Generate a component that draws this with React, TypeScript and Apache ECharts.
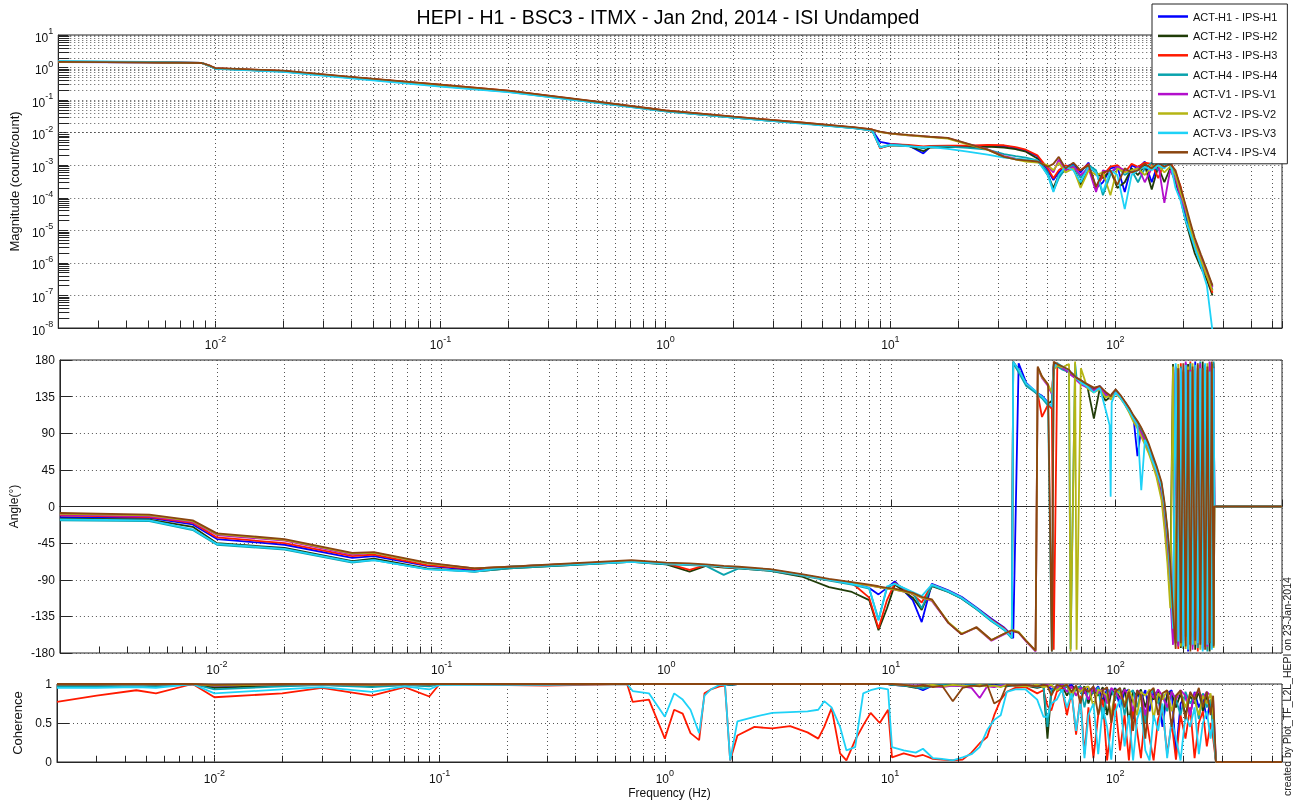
import React, { useEffect, useRef } from 'react';
import * as echarts from 'echarts';

const TITLE = 'HEPI - H1 - BSC3 - ITMX - Jan 2nd, 2014 - ISI Undamped';
const CREDIT = 'created by Plot_TF_L2L_HEPI on 23-Jan-2014';
const NAMES = ['ACT-H1 - IPS-H1', 'ACT-H2 - IPS-H2', 'ACT-H3 - IPS-H3', 'ACT-H4 - IPS-H4', 'ACT-V1 - IPS-V1', 'ACT-V2 - IPS-V2', 'ACT-V3 - IPS-V3', 'ACT-V4 - IPS-V4'];
const COLORS = ['#0000ff', '#203c08', '#ff1a00', '#0aa3ad', '#b30fcc', '#b5b514', '#1ed2f7', '#8a4510'];

// ---------- Magnitude ----------
const MAG_F = [0.002, 0.005, 0.0087, 0.0095, 0.01, 0.02, 0.04, 0.1, 0.2, 0.5, 1, 2, 4, 7, 8.3,
  9, 10, 12, 14, 15, 18, 22, 27, 32, 36, 40, 45, 50, 53, 56, 60, 65, 70, 76, 82, 88, 95, 102, 110, 118, 126, 135, 145, 155, 165, 175, 185, 195, 205, 215, 225, 240, 255, 270];
const MAG_H1 = [1.48, 1.44, 1.37, 1.1, 0.94, 0.77, 0.5, 0.29, 0.19, 0.086, 0.047, 0.030, 0.020, 0.014, 0.012,
  0.0052, 0.0045, 0.0041, 0.0023, 0.0036, 0.0038, 0.0037, 0.0038, 0.0039, 0.0034, 0.0028, 0.0019, 0.0007, 0.00035, 0.0006, 0.0009, 0.0011, 0.0006, 0.0012, 0.0002, 0.0003, 0.0008, 0.0009, 0.00015, 0.0010, 0.0008, 0.0013, 0.0003, 0.0012, 0.0009, 0.0011, 0.0004, 0.00012, 0.00003, 0.000008, 0.000003, 0.0000009, 0.0000004, 0.00000015];
const MAG_H2 = [1.5, 1.45, 1.38, 1.08, 0.93, 0.76, 0.49, 0.28, 0.185, 0.085, 0.046, 0.029, 0.0195, 0.0135, 0.0115,
  0.0034, 0.0041, 0.0039, 0.0027, 0.0035, 0.0036, 0.0036, 0.0037, 0.0035, 0.0031, 0.0026, 0.0016, 0.0005, 0.0002, 0.0005, 0.0007, 0.0009, 0.00025, 0.0009, 0.0006, 0.0004, 0.0007, 0.0002, 0.0003, 0.0008, 0.0005, 0.0010, 0.00018, 0.0009, 0.0003, 0.0008, 0.0003, 0.00009, 0.00002, 0.000006, 0.000002, 0.0000007, 0.0000003, 0.0000001];
const MAG_H3 = [1.52, 1.46, 1.39, 1.12, 0.96, 0.79, 0.51, 0.3, 0.195, 0.088, 0.048, 0.031, 0.0205, 0.0142, 0.0125,
  0.0033, 0.0044, 0.0042, 0.0038, 0.0039, 0.0040, 0.0040, 0.0042, 0.0041, 0.0036, 0.0030, 0.0020, 0.0008, 0.0004, 0.0007, 0.0010, 0.0008, 0.0007, 0.0011, 0.00018, 0.0005, 0.0009, 0.0010, 0.0006, 0.0011, 0.0009, 0.0012, 0.0011, 0.0004, 0.0012, 0.0013, 0.0006, 0.00022, 0.00005, 0.000012, 0.000004, 0.0000012, 0.0000004, 0.00000012];
const MAG_H4 = [1.55, 1.47, 1.38, 1.09, 0.93, 0.75, 0.48, 0.27, 0.18, 0.083, 0.045, 0.029, 0.0195, 0.0138, 0.0118,
  0.0036, 0.0043, 0.0040, 0.0033, 0.0037, 0.0037, 0.0034, 0.0030, 0.0022, 0.0019, 0.0017, 0.0014, 0.0006, 0.00016, 0.0004, 0.0008, 0.0010, 0.0004, 0.0010, 0.0007, 0.00012, 0.0005, 0.0009, 0.0005, 0.0007, 0.0003, 0.0008, 0.0012, 0.0007, 0.0011, 0.0010, 0.0005, 0.00015, 0.00004, 0.00001, 0.0000035, 0.000001, 0.0000005, 0.0000002];
const MAG_V1 = [1.5, 1.45, 1.38, 1.1, 0.95, 0.78, 0.5, 0.29, 0.19, 0.087, 0.047, 0.030, 0.020, 0.014, 0.0121,
  0.0105, 0.0094, 0.0083, 0.0077, 0.0074, 0.0068, 0.0045, 0.0031, 0.0019, 0.0016, 0.0014, 0.0013, 0.0009, 0.0006, 0.0015, 0.0007, 0.0009, 0.0005, 0.0008, 0.00015, 0.0007, 0.0006, 0.0009, 0.0007, 0.0006, 0.0009, 0.0003, 0.0008, 0.0011, 0.00007, 0.0007, 0.0004, 0.00010, 0.00004, 0.000015, 0.000005, 0.0000015, 0.0000005, 0.00000018];
const MAG_V2 = [1.5, 1.45, 1.37, 1.1, 0.95, 0.78, 0.5, 0.29, 0.19, 0.087, 0.047, 0.030, 0.020, 0.014, 0.0121,
  0.0104, 0.0093, 0.0082, 0.0076, 0.0073, 0.0066, 0.0044, 0.0030, 0.0018, 0.0015, 0.0013, 0.0012, 0.0010, 0.0007, 0.0012, 0.0006, 0.0008, 0.0002, 0.0007, 0.0005, 0.0006, 0.00012, 0.0008, 0.0006, 0.0007, 0.0008, 0.0005, 0.0009, 0.0010, 0.0006, 0.0009, 0.0005, 0.00014, 0.00005, 0.000012, 0.000004, 0.0000012, 0.0000004, 0.00000014];
const MAG_V3 = [1.58, 1.5, 1.4, 1.08, 0.92, 0.74, 0.47, 0.26, 0.175, 0.082, 0.045, 0.029, 0.019, 0.0135, 0.0116,
  0.0035, 0.0042, 0.0038, 0.0036, 0.0036, 0.0032, 0.0026, 0.0021, 0.0017, 0.0016, 0.0015, 0.0014, 0.0005, 0.00015, 0.0005, 0.0009, 0.0007, 0.0003, 0.0009, 0.0006, 0.00015, 0.0007, 0.0005, 0.000045, 0.0005, 0.0007, 0.0009, 0.0007, 0.0010, 0.0008, 0.0013, 0.0002, 0.00008, 0.00002, 0.000008, 0.000003, 0.0000008, 0.0000002, 0.000000008];
const MAG_V4 = [1.5, 1.45, 1.38, 1.12, 0.96, 0.8, 0.52, 0.3, 0.195, 0.089, 0.048, 0.031, 0.0205, 0.0145, 0.0125,
  0.0107, 0.0095, 0.0085, 0.0078, 0.0075, 0.0069, 0.0046, 0.0030, 0.0018, 0.0015, 0.0014, 0.0013, 0.0009, 0.0011, 0.0018, 0.0008, 0.0012, 0.0007, 0.0010, 0.00022, 0.0006, 0.0007, 0.00025, 0.0008, 0.0006, 0.0007, 0.0011, 0.0008, 0.0012, 0.0009, 0.0011, 0.0007, 0.0002, 0.00006, 0.000018, 0.000006, 0.0000018, 0.0000006, 0.0000002];

// ---------- Phase ----------
const PH_F = [0.002, 0.005, 0.0078, 0.01, 0.02, 0.04, 0.05, 0.086, 0.14, 0.2,
  0.7, 1, 1.27, 1.5, 1.8, 2.1, 2.9, 4, 5.3, 6.7,
  8, 8.8, 9.6, 10.4, 12.5, 13.7, 15.2, 18, 20.6, 24,
  28, 32, 34.5, 35, 37, 40, 44, 45, 47, 50,
  52, 53, 55, 58, 62, 63, 66, 67, 70, 75,
  80, 85, 90, 94, 95, 96, 100, 105, 110, 115,
  120, 125, 130, 135, 140, 145, 152, 160, 165, 170,
  175, 180, 185, 190, 195, 200, 205, 210, 215, 220,
  226, 232, 238, 244, 250, 256, 262, 268, 273, 275, 550];
const PH_H1 = [-13, -14, -22, -40, -47, -63, -61, -73, -78, -75,
  -67, -70, -71, -72, -74, -75, -78, -84, -90, -94,
  -100, -108, -100, -92, -115, -142, -95, -103, -111, -124,
  -138, -149, -158, -162, 176, 152, 141, 139, 136, 128,
  122, 172, 174, 171, 167, 165, 160, 158, 155, 150,
  144, 148, 139, 136, 134, 137, 143, 136, 128, 120,
  110, 62, 96, 84, 74, 60, 46, 20, -5, -40,
  -85, -160, 172, -170, 165, -165, 176, -178, 168, -160,
  178, -172, 170, -176, 174, -168, 177, -174, 172, 0, 0];
const PH_H2 = [-15, -16, -25, -45, -51, -67, -64, -76, -80, -76,
  -68, -71, -80, -73, -75, -76, -79, -86, -99, -105,
  -115, -152, -125, -96, -112, -127, -98, -105, -113, -126,
  -140, -151, -161, 178, 168, 150, 140, 138, 134, 126,
  130, 175, 176, 170, 166, 163, 158, 156, 152, 146,
  108, 145, 130, 134, 133, 135, 141, 134, 126, 117,
  108, 100, 92, 80, 72, 58, 42, 18, -8, -45,
  -95, 175, -168, 170, -174, 166, -160, 175, -170, 168,
  -176, 170, -165, 178, -172, 168, -178, 175, -170, 0, 0];
const PH_H3 = [-11, -13, -20, -38, -45, -61, -59, -72, -77, -74,
  -67, -70, -78, -72, -74, -75, -78, -84, -90, -94,
  -112, -150, -115, -94, -108, -118, -96, -104, -112, -125,
  -139, -150, -160, 177, 166, 150, 141, 138, 110, 125,
  120, -176, 174, 171, 166, 164, 159, 157, 154, 148,
  143, 147, 138, 135, 133, 136, 142, 135, 127, 119,
  110, 103, 94, 83, 72, 60, 45, 22, -2, -35,
  -80, -155, 170, -175, 176, -168, 165, -172, 178, -165,
  170, -178, 174, -170, 168, -176, 172, -168, 176, 0, 0];
const PH_H4 = [-17, -18, -29, -47, -53, -69, -66, -77, -80, -76,
  -68, -71, -72, -73, -84, -76, -79, -85, -91, -96,
  -101, -139, -100, -95, -106, -125, -97, -105, -113, -126,
  -141, -152, -162, 176, 165, 148, 140, 137, 133, 124,
  -178, 174, 172, 168, 165, -175, 176, 158, 154, 148,
  142, 146, 137, 134, 132, 135, 141, 135, 128, 120,
  111, 104, 95, 86, 76, 63, 48, 28, 2, -30,
  -75, -150, 168, -170, 172, -175, 170, -166, 176, -172,
  166, -174, 178, -168, 170, -178, 168, -172, 178, 0, 0];
const PH_V1 = [-10, -12, -19, -35, -42, -59, -57, -70, -76, -74,
  -67, -70, -71, -72, -74, -75, -78, -84, -90, -94,
  -97, -99, -101, -102, -107, -112, -116, -143, -157, -149,
  -165, -157, -153, -153, -155, -166, -178, 170, 158, 148,
  138, 172, 175, 170, 165, 162, 158, 155, 150, 146,
  142, 146, 138, 135, 132, 134, 140, 134, 126, 116,
  107, 98, 90, 80, 70, 58, 40, 12, -20, -60,
  -110, -170, 165, -172, 170, -165, 178, -170, 168, -176,
  172, -168, 176, -174, 166, -172, 178, -166, 170, 0, 0];
const PH_V2 = [-9, -11, -18, -34, -41, -58, -57, -70, -76, -74,
  -67, -70, -71, -72, -74, -75, -78, -84, -90, -94,
  -97, -99, -101, -102, -107, -112, -115, -142, -156, -149,
  -164, -156, -152, -152, -154, -165, -177, 171, 159, 150,
  140, 168, 173, 171, 175, -178, 178, -176, 170, 145,
  140, 144, 134, 136, 131, 134, 139, 133, 125, 115,
  104, 96, 86, 76, 66, 54, 36, 8, -28, -70,
  -125, 172, -168, 175, -172, 168, -175, 172, -168, 176,
  -170, 174, -176, 168, -172, 176, -166, 172, -174, 0, 0];
const PH_V3 = [-16, -17, -28, -46, -52, -68, -66, -77, -80, -74,
  -68, -70, -71, -72, -74, -75, -78, -84, -90, -95,
  -100, -140, -98, -95, -105, -110, -96, -104, -112, -125,
  -140, -151, -161, 178, 168, 151, 142, 139, 135, 127,
  123, 170, 176, 172, 167, 165, 160, 157, 152, 147,
  140, 146, 120, 100, 12, 128, 140, 134, 125, 117,
  108, 100, 20, 82, 72, 58, 44, 24, 0, -35,
  -82, -150, 176, -166, 170, -172, 174, -176, 166, -170,
  174, -168, 170, -178, 176, -170, 166, -176, 170, 0, 0];
const PH_V4 = [-8, -10, -17, -33, -40, -57, -56, -69, -76, -74,
  -66, -69, -70, -71, -73, -74, -77, -83, -89, -93,
  -96, -98, -100, -101, -106, -111, -114, -143, -157, -148,
  -164, -156, -152, -153, -155, -165, -177, 172, 160, 150,
  -178, 178, 175, 172, 168, 165, 160, 158, 155, 150,
  146, 148, 141, 137, 135, 138, 144, 137, 129, 121,
  112, 105, 97, 88, 78, 66, 50, 30, 5, -28,
  -70, -130, -175, 170, -168, 176, -172, 168, -178, 172,
  -165, 176, -170, 170, -176, 172, -168, 178, -172, 0, 0];

// ---------- Coherence ----------
const COH_F = [0.002, 0.003, 0.0045, 0.0055, 0.008, 0.01, 0.02, 0.03, 0.05, 0.07,
  0.09, 0.1, 0.3, 0.68, 0.72, 0.85, 1.0, 1.1, 1.2, 1.3,
  1.42, 1.5, 1.6, 1.75, 1.85, 1.95, 2.1, 2.5, 3, 3.6,
  4.3, 4.8, 5.1, 5.5, 6, 6.4, 7, 7.6, 8.2, 9,
  9.8, 10.2, 11.5, 13, 14, 15.5, 17, 19, 21, 23,
  25, 27, 29, 31, 33, 36, 40, 45, 48,
  50, 52, 55, 58, 61, 64, 67, 70, 73, 76,
  80, 84, 88, 92, 96, 100, 105, 110, 115, 120,
  125, 130, 136, 142, 148, 155, 162, 170, 178, 186,
  195, 205, 215, 225, 235, 245, 255, 265, 272, 280, 550];
const COH_H1 = [0.99, 0.99, 0.995, 0.99, 1, 0.97, 0.99, 0.995, 0.98, 0.995,
  0.99, 1, 1, 1, 1, 1, 1, 1, 1, 1,
  1, 1, 1, 1, 1, 0.99, 1, 1, 1, 1,
  1, 1, 1, 1, 1, 1, 1, 1, 1, 1,
  1, 0.99, 0.98, 0.96, 0.92, 0.98, 0.99, 0.99, 0.98, 0.99,
  0.99, 0.98, 0.99, 0.99, 0.98, 0.99, 0.98, 0.97, 0.99,
  0.98, 0.93, 0.97, 0.99, 0.96, 0.99, 0.92, 0.97, 0.88, 0.95,
  0.9, 0.97, 0.78, 0.94, 0.86, 0.95, 0.7, 0.9, 0.93, 0.55,
  0.88, 0.8, 0.92, 0.65, 0.9, 0.85, 0.45, 0.88, 0.92, 0.1,
  0.75, 0.85, 0.6, 0.9, 0.7, 0.82, 0.55, 0.8, 0.6, 0, 0];
const COH_H2 = [0.98, 0.98, 0.985, 0.98, 1, 0.95, 0.98, 0.99, 0.97, 0.99,
  0.98, 1, 1, 1, 1, 1, 1, 1, 1, 1,
  1, 1, 1, 1, 1, 0.99, 1, 1, 1, 1,
  1, 1, 1, 1, 1, 1, 1, 1, 1, 1,
  1, 0.99, 0.98, 0.95, 0.97, 0.98, 0.99, 0.99, 0.97, 0.99,
  0.98, 0.99, 0.98, 0.99, 0.97, 0.99, 0.98, 0.95, 0.97,
  0.3, 0.9, 0.95, 0.98, 0.85, 0.97, 0.94, 0.9, 0.97, 0.75,
  0.93, 0.85, 0.96, 0.6, 0.9, 0.94, 0.82, 0.95, 0.5, 0.9,
  0.85, 0.93, 0.7, 0.9, 0.8, 0.92, 0.6, 0.85, 0.9, 0.7,
  0.88, 0.6, 0.85, 0.75, 0.9, 0.65, 0.85, 0.7, 0.5, 0, 0];
const COH_H3 = [0.77, 0.85, 0.92, 0.88, 1.0, 0.83, 0.88, 0.95, 0.85, 0.96,
  0.84, 1.0, 0.98, 1.0, 0.77, 0.8, 0.3, 0.67, 0.62, 0.37,
  0.28, 0.88, 0.93, 0.97, 0.98, 0.02, 0.34, 0.45, 0.43, 0.46,
  0.38, 0.3, 0.45, 0.69, 0.11, 0.02, 0.28, 0.47, 0.63, 0.5,
  0.67, 0.06, 0.11, 0.07, 0.09, 0.04, 0.03, 0.02, 0.03, 0.12,
  0.24, 0.32, 0.6, 0.8, 0.9, 0.95, 0.96, 0.88, 0.92,
  0.72, 0.66, 0.9, 0.95, 0.6, 0.9, 0.35, 0.85, 0.1, 0.7,
  0.05, 0.6, 0.8, 0.02, 0.5, 0.75, 0.15, 0.6, 0.02, 0.7,
  0.4, 0.05, 0.65, 0.3, 0.02, 0.55, 0.7, 0.1, 0.5, 0.03,
  0.6, 0.3, 0.7, 0.05, 0.5, 0.65, 0.2, 0.5, 0.3, 0, 0];
const COH_H4 = [0.97, 0.97, 0.98, 0.97, 1, 0.93, 0.97, 0.985, 0.96, 0.985,
  0.97, 0.995, 1, 1, 1, 1, 1, 1, 1, 1,
  1, 1, 1, 1, 1, 0.99, 1, 1, 1, 1,
  1, 1, 1, 1, 1, 1, 1, 1, 1, 1,
  1, 0.99, 0.98, 0.96, 0.94, 0.98, 0.99, 0.98, 0.98, 0.99,
  0.98, 0.99, 0.97, 0.99, 0.98, 0.98, 0.99, 0.96, 0.98,
  0.45, 0.92, 0.97, 0.9, 0.98, 0.8, 0.95, 0.97, 0.7, 0.93,
  0.88, 0.96, 0.55, 0.9, 0.93, 0.8, 0.95, 0.6, 0.88, 0.92,
  0.7, 0.9, 0.5, 0.85, 0.93, 0.75, 0.88, 0.65, 0.9, 0.8,
  0.6, 0.9, 0.75, 0.85, 0.55, 0.88, 0.7, 0.8, 0.4, 0, 0];
const COH_V1 = [0.995, 0.995, 1, 0.995, 1, 0.98, 0.995, 1, 0.99, 1,
  0.995, 1, 1, 1, 1, 1, 1, 1, 1, 1,
  1, 1, 1, 1, 1, 1, 1, 1, 1, 1,
  1, 1, 1, 1, 1, 1, 1, 1, 1, 1,
  1, 1, 0.99, 0.98, 0.99, 0.97, 0.96, 0.98, 0.97, 0.95,
  0.82, 0.97, 0.96, 0.98, 0.99, 0.98, 0.99, 0.97, 0.98,
  0.99, 0.97, 0.95, 0.99, 0.9, 0.97, 0.85, 0.95, 0.92, 0.8,
  0.96, 0.88, 0.93, 0.75, 0.95, 0.9, 0.8, 0.93, 0.85, 0.65,
  0.92, 0.88, 0.6, 0.9, 0.82, 0.93, 0.85, 0.7, 0.9, 0.8,
  0.92, 0.85, 0.6, 0.88, 0.9, 0.82, 0.9, 0.85, 0.8, 0, 0];
const COH_V2 = [0.995, 0.995, 1, 0.995, 1, 0.98, 0.995, 1, 0.99, 1,
  0.995, 1, 1, 1, 1, 1, 1, 1, 1, 1,
  1, 1, 1, 1, 1, 1, 1, 1, 1, 1,
  1, 1, 1, 1, 1, 1, 1, 1, 1, 1,
  1, 1, 0.99, 0.97, 0.98, 0.99, 0.97, 0.99, 0.98, 0.97,
  0.99, 0.97, 0.98, 0.96, 0.99, 0.98, 0.97, 0.99, 0.96,
  0.97, 0.99, 0.92, 0.97, 0.99, 0.85, 0.96, 0.9, 0.95, 0.97,
  0.7, 0.93, 0.9, 0.85, 0.6, 0.92, 0.88, 0.75, 0.93, 0.8,
  0.6, 0.9, 0.85, 0.93, 0.55, 0.88, 0.8, 0.92, 0.65, 0.85,
  0.9, 0.7, 0.88, 0.8, 0.6, 0.85, 0.75, 0.88, 0.6, 0, 0];
const COH_V3 = [0.95, 0.95, 0.96, 0.95, 1.0, 0.88, 0.93, 0.96, 0.9, 0.97,
  0.93, 0.99, 0.99, 1.0, 0.91, 0.88, 0.58, 0.88, 0.8, 0.67,
  0.37, 0.85, 0.93, 0.99, 0.99, 0.02, 0.52, 0.58, 0.63, 0.64,
  0.65, 0.67, 0.78, 0.7, 0.45, 0.15, 0.19, 0.88, 0.92, 0.95,
  0.93, 0.19, 0.15, 0.12, 0.17, 0.05, 0.04, 0.02, 0.06, 0.1,
  0.19, 0.41, 0.54, 0.6, 0.9, 0.93, 0.93, 0.8, 0.58,
  0.58, 0.75, 0.8, 0.93, 0.7, 0.88, 0.4, 0.8, 0.05, 0.6,
  0.75, 0.1, 0.7, 0.45, 0.03, 0.65, 0.8, 0.2, 0.6, 0.02,
  0.55, 0.7, 0.15, 0.02, 0.6, 0.4, 0.75, 0.05, 0.55, 0.3,
  0.02, 0.6, 0.45, 0.7, 0.1, 0.5, 0.65, 0.3, 0.55, 0, 0];
const COH_V4 = [1, 1, 1, 1, 1, 0.99, 1, 1, 0.995, 1,
  1, 1, 1, 1, 1, 1, 1, 1, 1, 1,
  1, 1, 1, 1, 1, 1, 1, 1, 1, 1,
  1, 1, 1, 1, 1, 1, 1, 1, 1, 1,
  1, 1, 0.99, 0.97, 0.99, 0.96, 0.98, 0.78, 0.95, 0.98,
  0.97, 0.99, 0.75, 0.8, 0.99, 0.98, 0.99, 0.97, 0.99,
  0.98, 0.85, 0.99, 0.97, 0.99, 0.9, 0.98, 0.75, 0.95, 0.9,
  0.97, 0.6, 0.92, 0.96, 0.5, 0.9, 0.95, 0.7, 0.9, 0.4,
  0.92, 0.85, 0.3, 0.9, 0.95, 0.6, 0.88, 0.92, 0.45, 0.85,
  0.92, 0.55, 0.9, 0.8, 0.95, 0.7, 0.9, 0.6, 0.85, 0, 0];

const MAG = [MAG_H1, MAG_H2, MAG_H3, MAG_H4, MAG_V1, MAG_V2, MAG_V3, MAG_V4];
const PH = [PH_H1, PH_H2, PH_H3, PH_H4, PH_V1, PH_V2, PH_V3, PH_V4];
const COH = [COH_H1, COH_H2, COH_H3, COH_H4, COH_V1, COH_V2, COH_V3, COH_V4];

const FONT = '"Liberation Sans", Arial, Helvetica, sans-serif';
const AX = '#262626';
const GRIDLINE = { type: [1, 3] as any, color: '#555', width: 1 };

const zip = (F: number[], V: number[]) => F.map((f, i) => [f, V[i]]);
const isPow10 = (v: number) => Math.abs(Math.log10(v) - Math.round(Math.log10(v))) < 1e-6;
const powLabel = (v: number) => (isPow10(v) ? `{b|10}{s|${Math.round(Math.log10(v))}}` : '');
const RICH = {
  b: { fontSize: 12, color: '#111', fontFamily: FONT, lineHeight: 17, verticalAlign: 'bottom' },
  s: { fontSize: 9, color: '#111', fontFamily: FONT, lineHeight: 10, verticalAlign: 'top' },
};

export default function App() {
  const ref = useRef<HTMLDivElement>(null);
  useEffect(() => {
    const chart = echarts.init(ref.current!, null, { renderer: 'svg' });

    const grids = [
      { left: 57, top: 35, width: 1225, height: 293 },
      { left: 57, top: 360, width: 1225, height: 293 },
      { left: 57, top: 684, width: 1225, height: 78 },
    ].map((g) => ({ ...g, show: true, borderColor: AX, borderWidth: 1, backgroundColor: 'transparent' }));

    const xMinor: number[] = [];
    for (let k = -3; k <= 2; k++) for (let m = 2; m <= 9; m++) {
      const v = m * Math.pow(10, k);
      if (v > 0.0021 && v < 550) xMinor.push(v);
    }
    const yMinor: number[] = [];
    for (let k = -8; k <= 0; k++) for (let m = 2; m <= 9; m++) yMinor.push(m * Math.pow(10, k));

    const nameStyle = { fontSize: 13, color: '#111', fontFamily: FONT };
    const xAxes = [0, 1, 2].map((g) => ({
      type: 'log', logBase: 10, min: 0.002, max: 550, gridIndex: g,
      name: g === 2 ? 'Frequency (Hz)' : '',
      nameLocation: 'middle', nameGap: 25,
      nameTextStyle: { fontSize: 12, color: '#111', fontFamily: FONT },
      axisLine: { show: true, lineStyle: { color: AX } },
      axisTick: { show: true, inside: true, length: 7, lineStyle: { color: AX } },
      axisLabel: { formatter: powLabel, rich: RICH, margin: 6 },
      splitLine: { show: true, lineStyle: GRIDLINE },
    }));

    const yAxes = [
      {
        type: 'log', logBase: 10, min: 1e-8, max: 10, gridIndex: 0,
        name: 'Magnitude (count/count)', nameLocation: 'middle', nameGap: 33,
        nameTextStyle: nameStyle,
        axisLine: { show: true, lineStyle: { color: AX } },
        axisTick: { show: true, inside: true, length: 10, lineStyle: { color: AX } },
        axisLabel: { formatter: powLabel, rich: RICH, margin: 5 },
        splitLine: { show: true, lineStyle: GRIDLINE },
      },
      {
        type: 'value', min: -180, max: 180, interval: 45, gridIndex: 1,
        name: 'Angle(°)', nameLocation: 'middle', nameGap: 36,
        nameTextStyle: { fontSize: 12, color: '#111', fontFamily: FONT },
        axisLine: { show: true, lineStyle: { color: AX } },
        axisTick: { show: true, inside: true, length: 12, lineStyle: { color: AX } },
        axisLabel: { fontSize: 12, color: '#111', fontFamily: FONT, margin: 5 },
        splitLine: { show: true, lineStyle: GRIDLINE },
      },
      {
        type: 'value', min: 0, max: 1, interval: 0.5, gridIndex: 2,
        name: 'Coherence', nameLocation: 'middle', nameGap: 29,
        nameTextStyle: nameStyle,
        axisLine: { show: true, lineStyle: { color: AX } },
        axisTick: { show: true, inside: true, length: 12, lineStyle: { color: AX } },
        axisLabel: { fontSize: 12, color: '#111', fontFamily: FONT, margin: 5 },
        splitLine: { show: true, lineStyle: GRIDLINE },
      },
    ];

    const series: any[] = [];
    const sets = [
      { F: MAG_F, V: MAG },
      { F: PH_F, V: PH },
      { F: COH_F, V: COH },
    ];
    // grid decoration (minor grid lines + minor ticks)
    const tickBase = [[1.0001e-8, 1.7e-8], [-180, -172], [0, 0.08]];
    sets.forEach((_, g) => {
      const gridData: any[] = xMinor.map((v) => ({ xAxis: v }));
      if (g === 0) yMinor.forEach((v) => gridData.push({ yAxis: v }));
      series.push({
        type: 'line', xAxisIndex: g, yAxisIndex: g, data: [], silent: true,
        markLine: {
          silent: true, symbol: ['none', 'none'], z: 1, animation: false,
          label: { show: false }, lineStyle: GRIDLINE, emphasis: { disabled: true },
          data: gridData,
        },
      });
      const tickData: any[] = xMinor.map((v) => [{ coord: [v, tickBase[g][0]] }, { coord: [v, tickBase[g][1]] }]);
      if (g === 0) yMinor.forEach((v) => tickData.push([{ coord: [0.002, v] }, { coord: [0.00224, v] }]));
      series.push({
        type: 'line', xAxisIndex: g, yAxisIndex: g, data: [], silent: true,
        markLine: {
          silent: true, symbol: ['none', 'none'], z: 6, animation: false,
          label: { show: false }, lineStyle: { type: 'solid', color: AX, width: 1 }, emphasis: { disabled: true },
          data: tickData,
        },
      });
    });
    sets.forEach((s, g) => {
      s.V.forEach((vals, i) => {
        series.push({
          name: NAMES[i], type: 'line', xAxisIndex: g, yAxisIndex: g,
          data: zip(s.F, vals), showSymbol: false, symbol: 'none', silent: true,
          lineStyle: { width: 1.8, color: COLORS[i] }, itemStyle: { color: COLORS[i] },
          emphasis: { disabled: true }, z: 3,
        });
      });
    });

    chart.setOption({
      animation: false,
      textStyle: { fontFamily: FONT },
      grid: grids,
      xAxis: xAxes,
      yAxis: yAxes,
      legend: {
        data: NAMES, orient: 'vertical', left: 1152, top: 4,
        icon: 'rect', itemWidth: 30, itemHeight: 2.5, itemGap: 6.4,
        padding: [6, 10, 5, 6], backgroundColor: '#fff', borderColor: '#222', borderWidth: 1,
        textStyle: { fontSize: 11, color: '#111', lineHeight: 13, fontFamily: FONT },
        selectedMode: false, z: 10,
      },
      graphic: [
        {
          type: 'text', x: 668, y: 17, z: 10,
          style: { text: TITLE, fontSize: 19.5, fill: '#000', align: 'center', verticalAlign: 'middle', fontFamily: FONT },
        },
        {
          type: 'text', x: 1287, y: 796, rotation: Math.PI / 2, z: 10,
          style: { text: CREDIT, fontSize: 10.5, fill: '#222', align: 'left', verticalAlign: 'middle', fontFamily: FONT },
        },
      ],
      series,
    });
    return () => chart.dispose();
  }, []);
  return <div ref={ref} style={{ position: 'fixed', left: 0, top: 0, width: 1294, height: 803 }} />;
}
